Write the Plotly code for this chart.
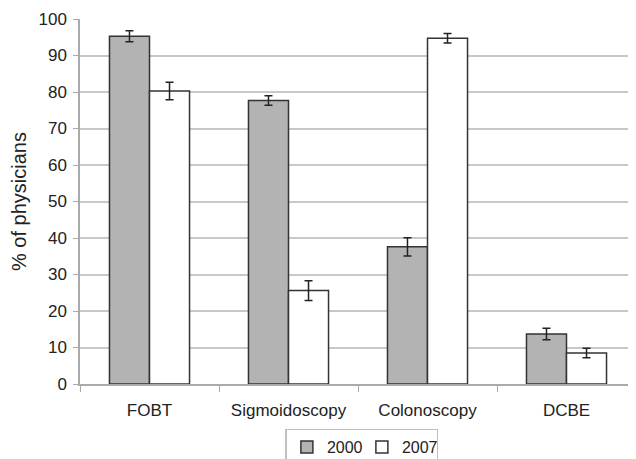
import plotly.graph_objects as go

categories = ["FOBT", "Sigmoidoscopy", "Colonoscopy", "DCBE"]
vals_2000 = [95.3, 77.7, 37.6, 13.7]
err_2000 = [1.5, 1.3, 2.5, 1.6]
vals_2007 = [80.3, 25.6, 94.7, 8.5]
err_2007 = [2.4, 2.7, 1.3, 1.3]

fig = go.Figure()
fig.add_trace(go.Bar(
    name="2000", x=categories, y=vals_2000,
    marker=dict(color="#b3b3b3", line=dict(color="#333333", width=1.5)),
    error_y=dict(type="data", array=err_2000, color="#222222", thickness=1.5, width=4),
))
fig.add_trace(go.Bar(
    name="2007", x=categories, y=vals_2007,
    marker=dict(color="#ffffff", line=dict(color="#333333", width=1.5)),
    error_y=dict(type="data", array=err_2007, color="#222222", thickness=1.5, width=4),
))

fig.update_layout(
    width=628, height=451,
    margin=dict(l=72, r=0, t=11, b=75, autoexpand=False),
    paper_bgcolor="white", plot_bgcolor="white",
    barmode="group", bargap=0.424, bargroupgap=0,
    font=dict(family="Liberation Sans, Arial, sans-serif", size=17, color="#222222"),
    showlegend=True,
    legend=dict(orientation="h", x=0.507, xanchor="center", y=-0.122, yanchor="top",
                bordercolor="#c0c0c0", borderwidth=1.5, font=dict(size=16),
                itemwidth=30, entrywidth=30, traceorder="normal",
                tracegroupgap=0),
    xaxis=dict(showline=True, linecolor="#aaaaaa", linewidth=1.5,
               ticks="outside", tickson="boundaries", ticklen=6, tickcolor="#aaaaaa",
               ticklabelstandoff=10,
               showgrid=False, automargin=False),
    yaxis=dict(range=[0, 100], dtick=10, showgrid=True, gridcolor="#c8c8c8", gridwidth=1.5,
               showline=True, linecolor="#aaaaaa", linewidth=1.5,
               ticks="outside", ticklen=5, tickcolor="#aaaaaa", automargin=False,
               ticklabelstandoff=3,
               title=dict(text="% of physicians", standoff=14), zeroline=False),
)

fig.write_html("out.html")
